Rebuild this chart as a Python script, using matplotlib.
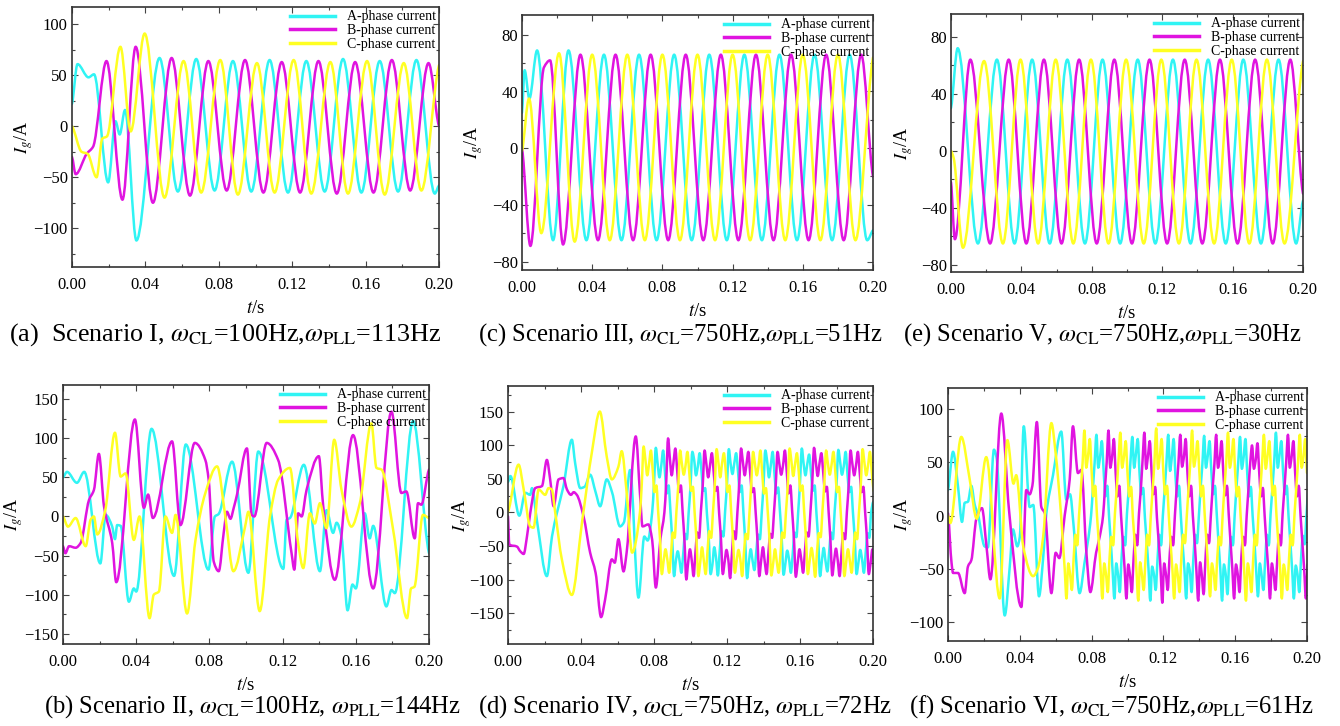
import numpy as np
import matplotlib
matplotlib.use('Agg')
import matplotlib.pyplot as plt
from matplotlib.path import Path
from matplotlib.patches import PathPatch
from matplotlib.lines import Line2D
from matplotlib.ticker import MultipleLocator, FormatStrFormatter

# ---------------- data (t [s], I [A]) ----------------
# (a) Scenario I
A_a = [(0.000, 22), (0.003, 61), (0.009, 48), (0.012, 51), (0.0197, -55), (0.0237, 5), (0.0260, -8),
       (0.0289, 16), (0.0351, -112), (0.0477, 67), (0.0577, -64), (0.0677, 66), (0.0777, -63),
       (0.0877, 64), (0.0977, -64), (0.1077, 65), (0.1177, -65), (0.1277, 64), (0.1377, -64),
       (0.1477, 66), (0.1577, -65), (0.1677, 64), (0.1777, -64), (0.1877, 65), (0.1977, -66), (0.2000, -58)]
B_a = [(0.000, -30), (0.002, -47), (0.008, -27), (0.0115, -20), (0.0188, 64), (0.0275, -72), (0.0347, 78),
       (0.0441, -75), (0.0543, 67), (0.0643, -68), (0.0743, 64), (0.0843, -63), (0.0943, 65), (0.1043, -65),
       (0.1143, 63), (0.1243, -65), (0.1343, 64), (0.1443, -66), (0.1543, 63), (0.1643, -65), (0.1743, 65),
       (0.1843, -63), (0.1943, 62), (0.2000, 0)]
C_a = [(0.000, 0), (0.0052, -25), (0.0085, -27), (0.0134, -50), (0.0165, -12), (0.0190, -10), (0.0264, 78),
       (0.0320, -5), (0.0396, 91), (0.0504, -70), (0.0608, 64), (0.0704, -65), (0.0808, 65), (0.0904, -67),
       (0.1008, 62), (0.1104, -65), (0.1208, 65), (0.1304, -66), (0.1408, 63), (0.1504, -66), (0.1608, 64),
       (0.1704, -67), (0.1808, 62), (0.1904, -63), (0.2000, 60)]

# (b) Scenario II
A_b = [(0.0000, 50), (0.0022, 57), (0.0076, 43), (0.0116, 57), (0.0204, -60), (0.0233, 2), (0.0269, -13),
       (0.0284, -29), (0.0296, -11), (0.0315, -12), (0.0360, -109), (0.0387, -92), (0.0400, -96),
       (0.0484, 112), (0.0607, -76), (0.0671, 92), (0.0795, -68), (0.0830, 0), (0.0850, 3), (0.0924, 70),
       (0.1013, -72), (0.1067, 83), (0.1204, -67), (0.1222, -4), (0.1240, -2), (0.1316, 66), (0.1404, -70),
       (0.1440, 8), (0.1476, -21), (0.1495, -8), (0.1522, -26), (0.1555, -120), (0.1582, -87), (0.1600, -92),
       (0.1649, 4), (0.1676, -28), (0.1695, -12), (0.1767, -115), (0.1795, -94), (0.1813, -98),
       (0.1913, 122), (0.2000, -47)]
B_b = [(0.0000, -38), (0.0013, -47), (0.0033, -38), (0.0069, -40), (0.0096, -34), (0.0142, 21), (0.0169, 34),
       (0.0196, 80), (0.0224, 13), (0.0269, -34), (0.0291, -84), (0.0393, 124), (0.0442, 11), (0.0465, 28),
       (0.0491, -2), (0.0596, 96), (0.0642, -11), (0.0720, 94), (0.0778, 72), (0.0796, 47), (0.0824, -58),
       (0.0851, -70), (0.0878, -21), (0.0896, 6), (0.0915, -3), (0.0933, 11), (0.0951, 28), (0.1005, 87),
       (0.1031, 2), (0.1045, 0), (0.1113, 94), (0.1176, 72), (0.1249, -47), (0.1264, -68), (0.1285, 4),
       (0.1304, 0), (0.1331, 34), (0.1398, 77), (0.1422, 13), (0.1485, -81), (0.1585, 104), (0.1695, -92),
       (0.1795, 134), (0.1849, 30), (0.1876, 32), (0.1922, -28), (0.1940, 17), (0.1958, 15), (0.2000, 60)]
C_b = [(0.0000, 0), (0.0027, -13), (0.0069, -2), (0.0124, -38), (0.0151, -4), (0.0169, 0), (0.0187, -23),
       (0.0231, 8), (0.0284, 107), (0.0315, 51), (0.0342, 55), (0.0387, -30), (0.0418, 0), (0.0473, -130),
       (0.0496, -100), (0.0524, -96), (0.0560, 0), (0.0596, -21), (0.0615, 2), (0.0678, -124), (0.0724, -30),
       (0.0778, 30), (0.0842, 64), (0.0887, 0), (0.0931, -70), (0.0995, -13), (0.1013, 6), (0.1075, -121),
       (0.1131, 0), (0.1176, 47), (0.1240, 62), (0.1285, -34), (0.1313, -66), (0.1349, 4), (0.1376, -9),
       (0.1404, 17), (0.1440, -15), (0.1482, 98), (0.1522, 34), (0.1576, -13), (0.1622, 17), (0.1685, 119),
       (0.1713, 62), (0.1740, 60), (0.1804, -17), (0.1880, -130), (0.1902, -92), (0.1920, -90),
       (0.1967, 2), (0.2000, -2)]

# (c) Scenario III
A_c = [(0.000, 25), (0.0015, 55), (0.0042, 35), (0.0086, 69), (0.0177, -65), (0.0265, 69), (0.0367, -65),
       (0.0467, 66), (0.0567, -65), (0.0667, 66), (0.0767, -65), (0.0867, 66), (0.0967, -65), (0.1067, 66),
       (0.1167, -65), (0.1267, 66), (0.1367, -65), (0.1467, 66), (0.1567, -65), (0.1667, 66), (0.1767, -65),
       (0.1867, 66), (0.1967, -65), (0.2000, -58)]
B_c = [(0.000, 0), (0.0048, -69), (0.0125, 57), (0.0160, 62), (0.0234, -68), (0.0333, 66), (0.0433, -65),
       (0.0533, 66), (0.0633, -65), (0.0733, 66), (0.0833, -65), (0.0933, 66), (0.1033, -65), (0.1133, 66),
       (0.1233, -65), (0.1333, 66), (0.1433, -65), (0.1533, 66), (0.1633, -65), (0.1733, 66), (0.1833, -65),
       (0.1933, 66), (0.2000, -20)]
C_c = [(0.000, -2), (0.0040, 35), (0.0110, -60), (0.0211, 67), (0.0300, -66), (0.0400, 66), (0.0500, -65),
       (0.0600, 66), (0.0700, -65), (0.0800, 66), (0.0900, -65), (0.1000, 66), (0.1100, -65), (0.1200, 66),
       (0.1300, -65), (0.1400, 66), (0.1500, -65), (0.1600, 66), (0.1700, -65), (0.1800, 66), (0.1900, -65),
       (0.2000, 64)]

# (d) Scenario IV : transient knots + 1 ms samples of the settled part
A_d = [(0.0000, 45), (0.0013, 54), (0.0062, -5), (0.0095, 29), (0.0122, 26), (0.0131, 36), (0.0160, -15),
       (0.0213, -95), (0.0241, -36), (0.0268, -1), (0.0304, 39), (0.0350, 108), (0.0368, 73), (0.0396, 36),
       (0.0420, 38), (0.0450, 56), (0.0480, 30), (0.0505, 9), (0.0541, 49), (0.0570, 30), (0.0614, -21),
       (0.0635, -15), (0.0669, 63), (0.0715, -127), (0.0747, -36), (0.0765, -42)]
A_d_start = 0.0790
A_d_ms = [0, 42, 96, 72, 52, 70, 92, 60, 28, 40, 2, -42, -95, -72, -58, -72, -90, -62, -32, -40,
          0, 38, 90, 78, 55, 68, 88, 62, 32, 36, -2, -38, -92, -78, -52, -68, -94, -58, -28, -36,
          3, 42, 94, 72, 57, 73, 88, 62, 30, 40, 0, -44, -98, -74, -55, -72, -86, -60, -33, -40,
          -2, 40, 92, 76, 52, 70, 90, 58, 28, 37, 2, -40, -93, -76, -57, -70, -90, -62, -30, -37,
          0, 44, 95, 72, 55, 72, 86, 60, 32, 40, -1, -42, -95, -72, -53, -73, -88, -58, -30, -40,
          2, 40, 93, 75, 56, 69, 90, 57, 30, 38, 0, -40, -92, -75, -56, -70, -90, -60, -31, -38,
          0, 15]
B_d = [(0.0000, -6), (0.0007, -48), (0.0049, -51), (0.0067, -58), (0.0086, -62), (0.0104, -36), (0.0122, -1),
       (0.0149, 36), (0.0186, 39), (0.0213, 78), (0.0231, 49), (0.0250, 9), (0.0277, 49), (0.0304, 51),
       (0.0323, 34), (0.0345, 26), (0.0360, 30), (0.0377, 26), (0.0414, -6), (0.0450, -60), (0.0480, -90),
       (0.0510, -156), (0.0532, -130), (0.0569, -70), (0.0585, -75), (0.0605, -40), (0.0633, -88),
       (0.0650, -60), (0.0700, 113), (0.0724, 24), (0.0737, -21), (0.0769, -18), (0.0790, -41),
       (0.0810, -112), (0.0835, -40)]
B_d_start = 0.0857
B_d_ms = [0, 45, 110, 80, 55, 75, 95, 62, 30, 40, 0, -42, -100, -75, -55, -72, -95, -60, -30, -38,
          2, 40, 92, 72, 52, 70, 88, 60, 32, 38, -2, -40, -92, -74, -56, -70, -98, -62, -28, -40,
          0, 42, 95, 75, 55, 72, 90, 58, 30, 36, 0, -42, -95, -72, -52, -74, -92, -60, -32, -38,
          -2, 40, 90, 72, 56, 70, 92, 62, 28, 40, 2, -40, -96, -76, -55, -70, -90, -58, -30, -36,
          0, 44, 96, 74, 54, 73, 88, 60, 31, 38, 0, -43, -94, -72, -54, -72, -95, -62, -31, -40,
          1, 40, 92, 72, 55, 70, 90, 60, 30, 38, 0, -40, -92, -75, -55, -70]
C_d = [(0.0000, 1), (0.0058, 71), (0.0086, 34), (0.0122, -21), (0.0140, -23), (0.0168, 34), (0.0204, 26),
       (0.0222, 36), (0.0240, 34), (0.0259, -1), (0.0295, -70), (0.0350, -123), (0.0405, -16), (0.0460, 90),
       (0.0503, 150), (0.0541, 83), (0.0569, 49), (0.0605, 68), (0.0623, 91), (0.0650, 30), (0.0680, -60)]
C_d_start = 0.0723
C_d_ms = [0, 42, 98, 78, 55, 72, 92, 62, 30, 40, 0, -40, -92, -72, -55, -70, -90, -62, -30, -38,
          2, 40, 92, 72, 56, 70, 90, 60, 32, 38, -2, -42, -95, -75, -52, -72, -92, -58, -28, -38,
          0, 40, 94, 74, 52, 73, 88, 62, 30, 40, 0, -40, -90, -72, -56, -70, -95, -60, -32, -40,
          -1, 43, 90, 72, 55, 70, 92, 58, 28, 36, 2, -42, -94, -76, -55, -74, -90, -62, -30, -38,
          0, 40, 95, 76, 54, 72, 88, 60, 32, 40, 0, -40, -92, -72, -53, -70, -96, -60, -31, -37,
          2, 42, 92, 72, 56, 71, 90, 62, 30, 38, 0, -42, -95, -74, -55, -72, -90, -58, -30, -40,
          0, 40, 94, 74, 55, 70, 90, 62, 32]

# (e) Scenario V
A_e = [(0.000, 30), (0.0038, 72), (0.0153, -65), (0.0261, 64), (0.0361, -65), (0.0461, 64), (0.0561, -65),
       (0.0661, 64), (0.0761, -65), (0.0861, 64), (0.0961, -65), (0.1061, 64), (0.1161, -65), (0.1261, 64),
       (0.1361, -65), (0.1461, 64), (0.1561, -65), (0.1661, 64), (0.1761, -65), (0.1861, 64), (0.1961, -65),
       (0.2000, -35)]
B_e = [(0.000, -22), (0.0022, -62), (0.0110, 64), (0.0222, -65), (0.0328, 64), (0.0428, -65), (0.0528, 64),
       (0.0628, -65), (0.0728, 64), (0.0828, -65), (0.0928, 64), (0.1028, -65), (0.1128, 64), (0.1228, -65),
       (0.1328, 64), (0.1428, -65), (0.1528, 64), (0.1628, -65), (0.1728, 64), (0.1828, -65), (0.1928, 64),
       (0.2000, -30)]
C_e = [(0.000, 0), (0.0015, -5), (0.0068, -68), (0.0188, 63), (0.0295, -65), (0.0395, 64), (0.0495, -65),
       (0.0595, 64), (0.0695, -65), (0.0795, 64), (0.0895, -65), (0.0995, 64), (0.1095, -65), (0.1195, 64),
       (0.1295, -65), (0.1395, 64), (0.1495, -65), (0.1595, 64), (0.1695, -65), (0.1795, 64), (0.1895, -65),
       (0.2000, 63)]

# (f) Scenario VI : transient knots + 1 ms samples of the settled part
A_f = [(0.0000, 24), (0.0028, 60), (0.0056, 27), (0.0078, -6), (0.0093, 12), (0.0111, 13), (0.0130, 28),
       (0.0149, 10), (0.0167, 1), (0.0204, -29), (0.0222, -30), (0.0256, 62), (0.0270, 55), (0.0316, -94),
       (0.0344, -48), (0.0362, -13), (0.0386, -29), (0.0400, -20), (0.0422, 84), (0.0455, 8), (0.0475, 10),
       (0.0507, -76), (0.0530, -40), (0.0548, 2), (0.0585, 38), (0.0631, 79), (0.0659, 15), (0.0680, 20),
       (0.0700, -10), (0.0733, -73), (0.0760, -45)]
A_f_start = 0.0797
A_f_ms = [0, 25, 50, 76, 45, 55, 70, 42, 18, 28, 0, -25, -52, -78, -45, -55, -72, -40, -20, -28,
          2, 25, 52, 74, 45, 58, 72, 40, 20, 26, -2, -25, -50, -80, -48, -55, -70, -42, -18, -28,
          0, 24, 50, 76, 42, 55, 72, 38, 18, 28, 0, -27, -50, -78, -45, -52, -72, -40, -18, -26,
          -2, 25, 48, 75, 45, 56, 70, 42, 20, 28, 2, -25, -50, -80, -46, -55, -74, -40, -20, -28,
          0, 26, 50, 74, 44, 55, 72, 40, 18, 27, 0, -24, -52, -76, -45, -56, -70, -42, -18, -28,
          1, 25, 50, 78, 45, 57, 70, 40, 20, 28, 0, -25, -50, -78, -47, -55, -72, -40, -19, -27,
          0, 22]
B_f = [(0.0000, 2), (0.0020, -45), (0.0028, -54), (0.0056, -54), (0.0093, -73), (0.0111, -48), (0.0130, -42),
       (0.0158, -3), (0.0189, 7), (0.0215, -30), (0.0236, -60), (0.0297, 96), (0.0340, 5), (0.0409, -86),
       (0.0436, 24), (0.0455, 20), (0.0470, 28), (0.0495, 88), (0.0520, 8), (0.0540, 2), (0.0576, -73),
       (0.0600, -35), (0.0620, -40), (0.0650, 0), (0.0678, 34), (0.0696, 84), (0.0724, 40), (0.0743, 43),
       (0.0771, -35), (0.0793, -72), (0.0825, -35), (0.0845, -20)]
B_f_start = 0.0864
B_f_ms = [0, 25, 50, 80, 45, 55, 72, 40, 18, 28, 0, -25, -50, -78, -46, -56, -72, -40, -18, -28,
          2, 24, 52, 78, 44, 56, 70, 42, 20, 27, -2, -25, -50, -82, -45, -55, -70, -40, -20, -28,
          0, 26, 50, 76, 46, 55, 72, 40, 18, 28, 0, -24, -52, -80, -44, -56, -74, -42, -18, -26,
          -1, 25, 48, 76, 45, 54, 70, 40, 19, 28, 1, -25, -50, -78, -46, -55, -72, -40, -20, -28,
          0, 25, 50, 66, 44, 52, 68, 40, 18, 26, 0, -26, -50, -78, -45, -55, -70, -42, -18, -28,
          1, 25, 50, 76, 45, 55, 70, 40, 18, 28, 0, -25, -50, -78, -46]
C_f = [(0.0000, 0), (0.0013, -7), (0.0074, 74), (0.0120, 35), (0.0160, -3), (0.0213, 55), (0.0288, -78),
       (0.0331, 71), (0.0365, 30), (0.0380, 38), (0.0420, -30), (0.0474, -57), (0.0500, -50), (0.0530, -20),
       (0.0576, 87), (0.0600, 58)]
C_f_start = 0.0630
C_f_ms = [0, -25, -50, -78, -45, -55, -70, -40, -18, -28,
          0, 25, 50, 80, 45, 56, 72, 42, 18, 28, 0, -25, -50, -78, -45, -55, -72, -40, -20, -28,
          2, 25, 52, 78, 45, 55, 70, 40, 18, 27, -2, -25, -52, -80, -44, -55, -70, -42, -18, -28,
          0, 24, 50, 82, 44, 56, 72, 40, 20, 28, 0, -26, -50, -78, -46, -56, -72, -40, -18, -26,
          -1, 25, 50, 80, 46, 55, 70, 42, 18, 28, 1, -25, -50, -76, -45, -54, -70, -40, -20, -28,
          0, 26, 50, 78, 45, 55, 72, 40, 18, 27, 0, -25, -52, -80, -45, -55, -72, -42, -18, -28,
          2, 25, 50, 76, 44, 56, 70, 40, 19, 28, 0, -25, -50, -78, -46, -55, -70, -40, -18, -28,
          0, 25, 50, 76, 45, 55, 72, 40]

LEGEND_LABELS = ['A-phase current', 'B-phase current', 'C-phase current']
CAPTIONS = {
    'a': r'(a)  Scenario I, $\omega_{\mathrm{CL}}$=100Hz,$\omega_{\mathrm{PLL}}$=113Hz',
    'b': r'(b) Scenario II, $\omega_{\mathrm{CL}}$=100Hz, $\omega_{\mathrm{PLL}}$=144Hz',
    'c': r'(c) Scenario III, $\omega_{\mathrm{CL}}$=750Hz,$\omega_{\mathrm{PLL}}$=51Hz',
    'd': r'(d) Scenario IV, $\omega_{\mathrm{CL}}$=750Hz, $\omega_{\mathrm{PLL}}$=72Hz',
    'e': r'(e) Scenario V, $\omega_{\mathrm{CL}}$=750Hz,$\omega_{\mathrm{PLL}}$=30Hz',
    'f': r'(f) Scenario VI, $\omega_{\mathrm{CL}}$=750Hz,$\omega_{\mathrm{PLL}}$=61Hz',
}

# ---------------- styling ----------------
plt.rcParams['font.family'] = ['Liberation Serif', 'DejaVu Serif']
plt.rcParams['mathtext.fontset'] = 'stix'
plt.rcParams['axes.unicode_minus'] = True

COLORS = ['#30F4F4', '#E014E0', '#FFFF22']
W, H = 1340, 726


def knots(pairs, start=None, ms=None):
    t = [p[0] for p in pairs]
    v = [p[1] for p in pairs]
    if ms is not None:
        t += list(start + 0.001 * np.arange(len(ms)))
        v += list(ms)
    return np.asarray(t, float), np.asarray(v, float)


def draw_curve(ax, t, v, color, lw=1.8):
    """Smooth curve through the read knots (shape-preserving cubic, drawn as Bezier path)."""
    n = len(t)
    h = np.diff(t)
    d = np.diff(v) / h
    m = np.zeros(n)
    for i in range(1, n - 1):
        if d[i - 1] * d[i] > 0:
            w1 = 2 * h[i] + h[i - 1]
            w2 = h[i] + 2 * h[i - 1]
            m[i] = (w1 + w2) / (w1 / d[i - 1] + w2 / d[i])
    m[0] = d[0] * 0.5
    m[-1] = d[-1] * 0.5
    verts = [(t[0], v[0])]
    codes = [Path.MOVETO]
    for i in range(n - 1):
        verts += [(t[i] + h[i] / 3, v[i] + m[i] * h[i] / 3),
                  (t[i + 1] - h[i] / 3, v[i + 1] - m[i + 1] * h[i] / 3),
                  (t[i + 1], v[i + 1])]
        codes += [Path.CURVE4] * 3
    ax.add_patch(PathPatch(Path(verts, codes), fill=False, edgecolor=color, lw=lw,
                           joinstyle='round', capstyle='round', zorder=2))


def px_box(l, r, top, bot):
    return [l / W, 1 - bot / H, (r - l) / W, (bot - top) / H]


# ylab_x : pixel x of the right-hand edge of the rotated y label
PANELS = {
    'a': dict(px=(72, 439, 7, 267), ylim=(-138, 117), major=50, minor=25, ylab_x=35,
              series=[knots(A_a), knots(B_a), knots(C_a)], cap=(225, 335), capsize=18.8),
    'c': dict(px=(522, 873, 15, 270), ylim=(-86, 94), major=40, minor=20, ylab_x=485,
              series=[knots(A_c), knots(B_c), knots(C_c)], cap=(680, 335), capsize=17.7),
    'e': dict(px=(951, 1303, 14, 272), ylim=(-85, 96), major=40, minor=20, ylab_x=915,
              series=[knots(A_e), knots(B_e), knots(C_e)], cap=(1102, 335), capsize=17.7),
    'b': dict(px=(63, 429, 385, 644), ylim=(-163, 168), major=50, minor=25, ylab_x=25,
              series=[knots(A_b), knots(B_b), knots(C_b)], cap=(252, 707), capsize=17.7),
    'd': dict(px=(508, 873, 386, 644), ylim=(-196, 188), major=50, minor=25, ylab_x=473,
              series=[knots(A_d, A_d_start, A_d_ms), knots(B_d, B_d_start, B_d_ms),
                      knots(C_d, C_d_start, C_d_ms)], cap=(685, 707), capsize=17.7),
    'f': dict(px=(948, 1307, 388, 641), ylim=(-118, 120), major=50, minor=25, ylab_x=915,
              series=[knots(A_f, A_f_start, A_f_ms), knots(B_f, B_f_start, B_f_ms),
                      knots(C_f, C_f_start, C_f_ms)], cap=(1111, 707), capsize=17.7),
}

fig = plt.figure(figsize=(W / 100, H / 100), dpi=100)
fig.patch.set_facecolor('white')

for key, p in PANELS.items():
    l, r, top, bot = p['px']
    ax = fig.add_axes(px_box(l, r, top, bot))
    for (t, v), col in zip(p['series'], COLORS):
        draw_curve(ax, t, v, col)
    ax.set_xlim(0, 0.2)
    ax.set_ylim(*p['ylim'])
    ax.xaxis.set_major_locator(MultipleLocator(0.04))
    ax.xaxis.set_minor_locator(MultipleLocator(0.02))
    ax.xaxis.set_major_formatter(FormatStrFormatter('%.2f'))
    ax.yaxis.set_major_locator(MultipleLocator(p['major']))
    ax.yaxis.set_minor_locator(MultipleLocator(p['minor']))
    ax.tick_params(which='both', direction='in', top=True, right=True, width=0.8, color='#444444')
    ax.tick_params(which='major', length=4, labelsize=12)
    ax.tick_params(axis='x', which='major', pad=7)
    ax.tick_params(axis='y', which='major', pad=3)
    ax.tick_params(which='minor', length=2.5)
    for s in ax.spines.values():
        s.set_linewidth(1.2)
        s.set_color('#333333')
    ax.set_xlabel(r'$t$/s', fontsize=13.5, labelpad=5)
    ax.set_ylabel(r'$I_g$/A', fontsize=13)
    ax.yaxis.set_label_coords((p['ylab_x'] - l) / (r - l), 0.5)
    handles = [Line2D([], [], color=c, lw=2.5) for c in COLORS]
    ax.legend(handles, LEGEND_LABELS, loc='upper right', frameon=False, fontsize=10,
              handlelength=3.3, handletextpad=0.8, labelspacing=0.05, borderaxespad=0.15,
              borderpad=0.1)
    cx, cy = p['cap']
    fig.text(cx / W, 1 - cy / H, CAPTIONS[key], ha='center', va='center', fontsize=p['capsize'])

fig.savefig('out.png', dpi=100, facecolor='white')
